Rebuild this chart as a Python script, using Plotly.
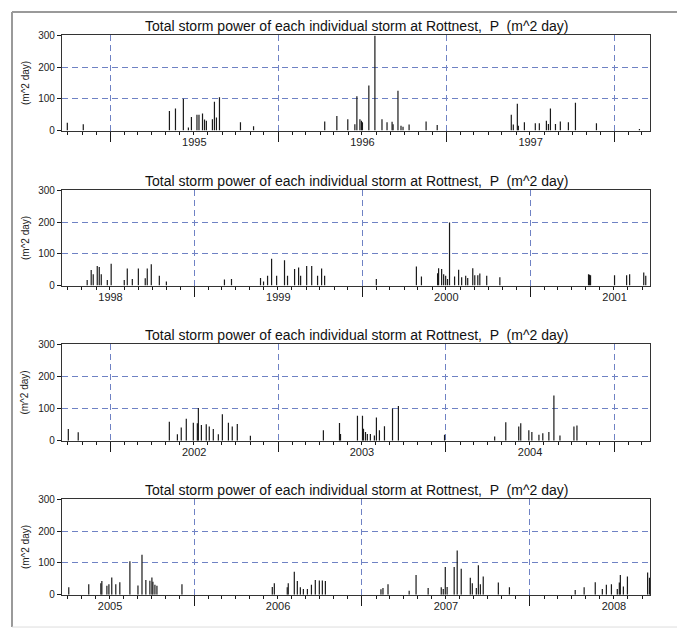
import plotly.graph_objects as go
import pandas as pd

TITLE = "Total storm power of each individual storm at Rottnest,  P  (m^2 day)"
Y_TITLE = "(m^2 day)"
Y_TICKS = [0, 100, 200, 300]

# Panel 1 (Sep 1994 - Mar 1998): storm time (decimal year), storm power
p1_time = [1994.744, 1994.839, 1995.352, 1995.388, 1995.435, 1995.465, 1995.483, 1995.516,
           1995.528, 1995.549, 1995.561, 1995.572, 1995.608, 1995.620, 1995.632, 1995.650,
           1995.775, 1995.853, 1996.276, 1996.348, 1996.413, 1996.455, 1996.467, 1996.485,
           1996.494, 1996.500, 1996.538, 1996.574, 1996.616, 1996.646, 1996.676, 1996.682,
           1996.711, 1996.729, 1996.741, 1996.777, 1996.878, 1996.944, 1997.385, 1997.397,
           1997.421, 1997.427, 1997.463, 1997.528, 1997.552, 1997.594, 1997.606, 1997.618,
           1997.648, 1997.677, 1997.725, 1997.767, 1997.892, 1998.148]
p1_power = [25, 20, 62, 70, 100, 10, 43, 50,
            50, 54, 35, 31, 36, 91, 41, 105,
            26, 14, 29, 46, 36, 20, 108, 36,
            31, 26, 142, 300, 36, 26, 28, 20,
            126, 15, 12, 19, 29, 18, 50, 19,
            85, 15, 26, 23, 23, 31, 21, 70,
            21, 29, 26, 88, 23, 5]

# Panel 2 (Mar 1998 - Sep 2001)
p2_time = [1998.361, 1998.385, 1998.397, 1998.421, 1998.433, 1998.445, 1998.481, 1998.504,
           1998.582, 1998.600, 1998.630, 1998.666, 1998.707, 1998.719, 1998.743, 1998.791,
           1998.833, 1999.179, 1999.221, 1999.394, 1999.412, 1999.436, 1999.460, 1999.490,
           1999.537, 1999.555, 1999.597, 1999.621, 1999.633, 1999.669, 1999.699, 1999.734,
           1999.758, 1999.776, 2000.084, 2000.322, 2000.352, 2000.448, 2000.454, 2000.472,
           2000.484, 2000.496, 2000.507, 2000.519, 2000.549, 2000.573, 2000.591, 2000.615,
           2000.627, 2000.657, 2000.669, 2000.687, 2000.699, 2000.740, 2000.818, 2001.346,
           2001.352, 2001.358, 2001.501, 2001.573, 2001.591, 2001.675, 2001.687]
p2_power = [18, 49, 36, 62, 59, 36, 18, 69,
            18, 54, 21, 54, 23, 54, 67, 31,
            13, 19, 21, 24, 13, 31, 85, 31,
            80, 31, 52, 57, 31, 62, 62, 31,
            54, 31, 21, 60, 29, 39, 55, 52,
            36, 31, 21, 199, 29, 50, 26, 31,
            24, 55, 33, 33, 38, 31, 26, 36,
            34, 33, 33, 33, 36, 41, 31]

# Panel 3 (Sep 2001 - Mar 2005)
p3_time = [2001.750, 2001.809, 2002.352, 2002.400, 2002.423, 2002.453, 2002.495, 2002.519,
           2002.525, 2002.543, 2002.572, 2002.590, 2002.614, 2002.644, 2002.668, 2002.704,
           2002.727, 2002.757, 2002.835, 2003.270, 2003.366, 2003.372, 2003.473, 2003.503,
           2003.509, 2003.521, 2003.532, 2003.550, 2003.574, 2003.586, 2003.604, 2003.634,
           2003.682, 2003.717, 2003.992, 2004.290, 2004.356, 2004.433, 2004.445, 2004.493,
           2004.511, 2004.553, 2004.576, 2004.612, 2004.642, 2004.678, 2004.761, 2004.779]
p3_power = [36, 26, 59, 20, 41, 68, 56, 54,
            102, 49, 51, 44, 36, 20, 82, 56,
            44, 52, 15, 32, 55, 21, 78, 78,
            37, 27, 21, 21, 16, 72, 32, 45,
            100, 108, 18, 13, 57, 44, 54, 32,
            27, 18, 23, 27, 141, 16, 44, 47]

# Panel 4 (Mar 2005 - Sep 2008)
p4_time = [2005.254, 2005.373, 2005.445, 2005.451, 2005.481, 2005.493, 2005.510, 2005.534,
           2005.558, 2005.618, 2005.666, 2005.690, 2005.713, 2005.737, 2005.749, 2005.755,
           2005.767, 2005.779, 2005.928, 2006.466, 2006.478, 2006.555, 2006.561, 2006.597,
           2006.615, 2006.633, 2006.651, 2006.675, 2006.699, 2006.722, 2006.746, 2006.764,
           2006.782, 2007.113, 2007.125, 2007.155, 2007.281, 2007.322, 2007.394, 2007.472,
           2007.484, 2007.496, 2007.507, 2007.549, 2007.567, 2007.591, 2007.645, 2007.657,
           2007.681, 2007.693, 2007.705, 2007.722, 2007.812, 2007.878, 2008.269, 2008.322,
           2008.388, 2008.430, 2008.454, 2008.484, 2008.519, 2008.531, 2008.537, 2008.555,
           2008.579, 2008.699, 2008.710]
p4_power = [23, 33, 36, 43, 28, 33, 54, 33,
            39, 105, 29, 126, 46, 44, 54, 41,
            31, 28, 33, 24, 36, 23, 36, 72,
            43, 23, 18, 18, 31, 46, 45, 45,
            43, 17, 21, 33, 12, 62, 21, 23,
            18, 87, 24, 87, 139, 82, 53, 36,
            21, 93, 33, 57, 38, 23, 15, 23,
            39, 18, 31, 33, 18, 38, 62, 26,
            57, 70, 53]

panel_ranges = [("1994-09-18", "1998-03-19"), ("1998-03-19", "2001-09-18"),
                ("2001-09-18", "2005-03-20"), ("2005-03-20", "2008-09-18")]

panels = [(p1_time, p1_power), (p2_time, p2_power), (p3_time, p3_power), (p4_time, p4_power)]


def dec_to_date(y):
    yr = int(y)
    start = pd.Timestamp(yr, 1, 1)
    end = pd.Timestamp(yr + 1, 1, 1)
    return start + (end - start) * (y - yr)


W, H = 677, 635
x_dom = [62 / W, 650 / W]
# (top px, bottom px) of each panel's plot area
panel_px = [(30, 127), (188, 285), (345, 443), (503, 600)]

GRID = "#6f82c4"
INK = "#1a1a1a"
FONT = "Liberation Sans, Arial, sans-serif"

fig = go.Figure()
annotations = []
for i, ((t, p), rng, (top, bot)) in enumerate(zip(panels, panel_ranges, panel_px)):
    n = "" if i == 0 else str(i + 1)
    xs, ys = [], []
    for ti, pi in zip(t, p):
        d = dec_to_date(ti)
        xs += [d, d, None]
        ys += [0, pi, None]
    fig.add_trace(go.Scatter(x=xs, y=ys, mode="lines", line=dict(color=INK, width=1.2),
                             xaxis="x" + n, yaxis="y" + n, showlegend=False, hoverinfo="skip"))
    ydom = [1 - bot / H, 1 - top / H]
    fig.update_layout(**{
        "xaxis" + n: dict(
            type="date", range=list(rng), domain=x_dom, anchor="y" + n,
            tick0="1990-01-01", dtick="M12", tickformat="%Y", ticklabelmode="period",
            ticks="outside", ticklen=10, tickwidth=1, tickcolor=INK,
            showgrid=True, gridcolor=GRID, griddash="6px,4px", gridwidth=1,
            showline=True, mirror=True, linecolor="#333333", linewidth=1.3,
            minor=dict(dtick="M1", ticks="outside", ticklen=3, tickcolor=INK, showgrid=False),
            tickfont=dict(size=11, color="#222222", family=FONT),
            ticklabelstandoff=-9, zeroline=False, fixedrange=True),
        "yaxis" + n: dict(
            range=[0, 300], domain=ydom, anchor="x" + n, tickvals=Y_TICKS,
            ticks="outside", ticklen=4, tickcolor=INK,
            showgrid=True, gridcolor=GRID, griddash="6px,4px", gridwidth=1,
            showline=True, mirror=True, linecolor="#333333", linewidth=1.3,
            zeroline=True, zerolinecolor=INK, zerolinewidth=2,
            tickfont=dict(size=10, color="#222222", family=FONT), fixedrange=True),
    })
    annotations.append(dict(text=TITLE, x=(x_dom[0] + x_dom[1]) / 2, y=ydom[1], xref="paper",
                            yref="paper", xanchor="center", yanchor="bottom", yshift=-1,
                            showarrow=False, font=dict(size=14, color="#111111", family=FONT)))
    annotations.append(dict(text=Y_TITLE, x=25 / W, y=(ydom[0] + ydom[1]) / 2, xref="paper",
                            yref="paper", xanchor="center", yanchor="middle", textangle=-90,
                            showarrow=False, font=dict(size=10, color="#222222", family=FONT)))

shapes = [
    dict(type="line", xref="paper", yref="paper", x0=12 / W, x1=1, y0=1 - 6 / H, y1=1 - 6 / H,
         line=dict(color="#9a9a9a", width=2)),
    dict(type="line", xref="paper", yref="paper", x0=12 / W, x1=12 / W, y0=1 - 6 / H, y1=1 - 633 / H,
         line=dict(color="#9a9a9a", width=2)),
    dict(type="line", xref="paper", yref="paper", x0=12 / W, x1=1, y0=1 - 633 / H, y1=1 - 633 / H,
         line=dict(color="#dddddd", width=1)),
]

fig.update_layout(width=W, height=H, margin=dict(l=0, r=0, t=0, b=0),
                  paper_bgcolor="white", plot_bgcolor="white",
                  annotations=annotations, shapes=shapes, showlegend=False,
                  font=dict(family=FONT))

fig.write_html("out.html")
